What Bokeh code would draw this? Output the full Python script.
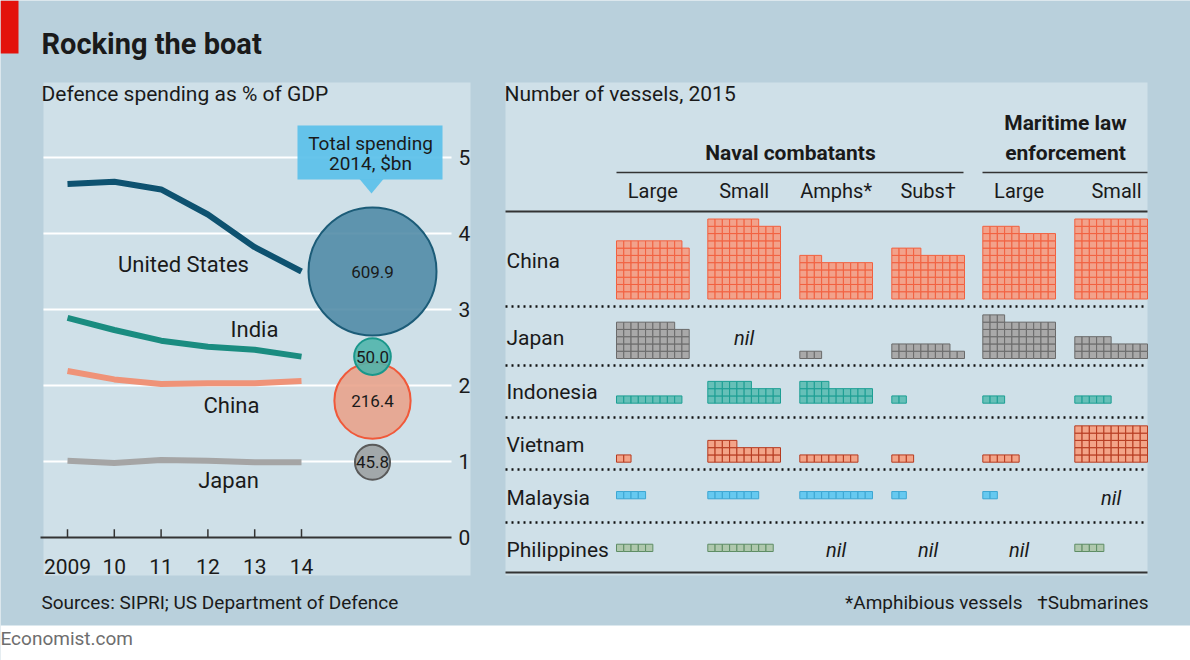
import math
from bokeh.plotting import figure
from bokeh.models import Range1d
from bokeh.core.properties import value
from bokeh.embed import file_html
from bokeh.resources import INLINE

# ---------------- data ----------------
years = [2009, 2010, 2011, 2012, 2013, 2014]
year_labels = ["2009", "10", "11", "12", "13", "14"]
us_gdp = [4.65, 4.68, 4.58, 4.25, 3.82, 3.50]
india_gdp = [2.89, 2.73, 2.59, 2.51, 2.47, 2.38]
china_gdp = [2.19, 2.08, 2.02, 2.03, 2.03, 2.06]
japan_gdp = [1.01, 0.98, 1.02, 1.01, 0.99, 0.99]
pct_ticks = [0, 1, 2, 3, 4, 5]

spend_countries = ["United States", "China", "India", "Japan"]
spend_2014 = [609.9, 216.4, 50.0, 45.8]

countries = ["China", "Japan", "Indonesia", "Vietnam", "Malaysia", "Philippines"]
vessel_cols = ["Large", "Small", "Amphs*", "Subs†", "Large", "Small"]
naval_large = [79, 48, 9, 2, 4, 5]
naval_small = [107, 0, 26, 24, 7, 9]
amphs = [53, 3, 24, 8, 10, 0]
subs = [64, 18, 2, 3, 2, 0]
mle_large = [95, 53, 3, 5, 2, 0]
mle_small = [110, 25, 5, 50, 0, 4]

# ---------------- styles / layout ----------------
FONT = value("Roboto")
INK = "#1a1a1a"
PAGE_BG = "#b9d0dc"
PANEL_BG = "#cfe0e8"

line_colors = {"United States": "#0e5270", "India": "#1a8c80", "China": "#ef9378", "Japan": "#a5a5a5"}
bubble_fill = {"United States": "#4f89a5", "India": "#4db3aa", "China": "#e9a089", "Japan": "#9c9fa1"}
bubble_line = {"United States": "#1c5c78", "India": "#1a978b", "China": "#f0593a", "Japan": "#5a5a5a"}
waffle_fill = ["#f2a28b", "#a9a9a9", "#66c0b8", "#f3a488", "#66c9f0", "#afc8ad"]
waffle_line = ["#f2603f", "#6a6a6a", "#1c9e93", "#b63a1f", "#3da6d2", "#5e8d64"]

W, H = 1190, 660
X0, Y0 = 0, 0  # figure pixel coords == reference pixel coords

p = figure(width=W, height=H, x_range=Range1d(X0, X0 + W), y_range=Range1d(Y0 + H, Y0),
           output_backend="svg", toolbar_location=None, min_border=0,
           x_axis_type=None, y_axis_type=None)
p.background_fill_color = PAGE_BG
p.border_fill_color = PAGE_BG
p.outline_line_color = None
p.grid.visible = False

# line-chart scales mapped onto the page frame
yr_px0, yr_step = 67.0, 46.8      # x px of 2009, px per year
pct_px0, pct_step = 537.0, 76.0   # y px of 0%, px per point
p.extra_x_ranges = {"year": Range1d(2009 + (X0 - yr_px0) / yr_step, 2009 + (X0 + W - yr_px0) / yr_step)}
p.extra_y_ranges = {"pct": Range1d((pct_px0 - (Y0 + H)) / pct_step, (pct_px0 - Y0) / pct_step)}

# ---------------- page furniture ----------------
p.quad(left=[0], right=[18], top=[0], bottom=[53], fill_color="#e3120b", line_color=None)
p.quad(left=[0], right=[1190], top=[625], bottom=[660], fill_color="white", line_color=None)
p.quad(left=[43, 505], right=[470, 1147], top=[82, 82], bottom=[575, 575],
       fill_color=PANEL_BG, line_color=None)

p.text(x=[41], y=[43], text=["Rocking the boat"], text_font=FONT, text_font_size="29px",
       text_font_style="bold", text_color=INK, text_baseline="middle")
p.text(x=[41], y=[93], text=["Defence spending as % of GDP"], text_font=FONT, text_font_size="21px",
       text_color=INK, text_baseline="middle")
p.text(x=[504], y=[93], text=["Number of vessels, 2015"], text_font=FONT, text_font_size="21px",
       text_color=INK, text_baseline="middle")
p.text(x=[41], y=[602], text=["Sources: SIPRI; US Department of Defence"], text_font=FONT,
       text_font_size="19px", text_color=INK, text_baseline="middle")
p.text(x=[1022], y=[602], text=["*Amphibious vessels"], text_font=FONT,
       text_font_size="19px", text_color=INK, text_baseline="middle", text_align="right")
p.text(x=[1148], y=[602], text=["†Submarines"], text_font=FONT,
       text_font_size="19px", text_color=INK, text_baseline="middle", text_align="right")
p.text(x=[0], y=[638], text=["Economist.com"], text_font=FONT, text_font_size="19px",
       text_color="#6e6e6e", text_baseline="middle")

# ---------------- left chart ----------------
p.segment(x0=[43] * 5, x1=[451] * 5, y0=pct_ticks[1:], y1=pct_ticks[1:], y_range_name="pct",
          line_color="white", line_width=2)
p.segment(x0=[40], x1=[451], y0=[0], y1=[0], y_range_name="pct", line_color="#333333", line_width=2)
p.segment(x0=years, x1=years, y0=[0] * 6, y1=[0.11] * 6, x_range_name="year", y_range_name="pct",
          line_color="#333333", line_width=1.5)
p.text(x=years, y=[566] * 6, text=year_labels, x_range_name="year", text_font=FONT,
       text_font_size="21px", text_color=INK, text_align="center", text_baseline="middle")
p.text(x=[458] * 6, y=pct_ticks, text=[str(t) for t in pct_ticks], y_range_name="pct", text_font=FONT,
       text_font_size="21px", text_color=INK, text_baseline="middle")

series = {"United States": us_gdp, "India": india_gdp, "China": china_gdp, "Japan": japan_gdp}
for name, vals in series.items():
    p.line(years, vals, x_range_name="year", y_range_name="pct", line_color=line_colors[name],
           line_width=6, line_cap="butt", line_join="round")

label_pos = {"United States": (183, 264), "India": (254, 329), "China": (231, 405), "Japan": (228, 480)}
for name, (lx, ly) in label_pos.items():
    p.text(x=[lx], y=[ly], text=[name], text_font=FONT, text_font_size="22px", text_color=INK,
           text_align="center", text_baseline="middle")

# callout
p.quad(left=[297], right=[442], top=[125], bottom=[179], fill_color="#5bc1ea", fill_alpha=0.93,
       line_color=None)
p.patch(x=[359, 383, 371], y=[178.5, 178.5, 193], fill_color="#5bc1ea", fill_alpha=0.93, line_color=None)
p.text(x=[370, 370], y=[143, 163], text=["Total spending", "2014, $bn"], text_font=FONT,
       text_font_size="19px", text_color=INK, text_align="center", text_baseline="middle")

# bubbles (area ~ spending), centred near each line's 2014 value
bubble_y = {"United States": us_gdp[-1], "China": 1.80, "India": india_gdp[-1], "Japan": japan_gdp[-1]}
max_d = 128.0
bx = 372
for name, v in zip(spend_countries, spend_2014):
    d = max_d * math.sqrt(v / max(spend_2014))
    p.scatter(x=[bx], y=[bubble_y[name]], size=d, y_range_name="pct", marker="circle",
              fill_color=bubble_fill[name], fill_alpha=0.88, line_color=bubble_line[name], line_width=2)
for name, v in zip(spend_countries, spend_2014):
    p.text(x=[bx], y=[bubble_y[name]], text=[f"{v:.1f}"], y_range_name="pct", text_font=FONT,
           text_font_size="17px", text_color=INK, text_align="center", text_baseline="middle")

# ---------------- right chart: waffles ----------------
col_left = [616, 707.3, 799.3, 891.3, 982.3, 1074.3]
row_bottom = [298.5, 358, 402.7, 461.7, 498.3, 551]
row_label_y = [260, 337, 391, 444, 497, 549]
cs = 7.27
per_row = 10

p.text(x=[790], y=[152], text=["Naval combatants"], text_font=FONT, text_font_size="21px",
       text_font_style="bold", text_color=INK, text_align="center", text_baseline="middle")
p.text(x=[1065, 1065], y=[122, 152], text=["Maritime law", "enforcement"], text_font=FONT,
       text_font_size="21px", text_font_style="bold", text_color=INK, text_align="center",
       text_baseline="middle")
p.segment(x0=[616, 982], x1=[963, 1147], y0=[172, 172], y1=[172, 172], line_color="#333333", line_width=1.5)
col_centers = [c + cs * per_row / 2 for c in col_left]
hdr_x = col_centers[:5] + [1116]
p.text(x=hdr_x, y=[190] * 6, text=vessel_cols, text_font=FONT, text_font_size="20px",
       text_color=INK, text_align="center", text_baseline="middle")
p.segment(x0=[505], x1=[1147], y0=[211], y1=[211], line_color="#333333", line_width=2)
p.segment(x0=[505], x1=[1147], y0=[572], y1=[572], line_color="#333333", line_width=2)
sep_y = [306, 365, 417, 469, 522]
p.segment(x0=[505] * 5, x1=[1147] * 5, y0=sep_y, y1=sep_y, line_color="#111111", line_width=2.4,
          line_dash="2 4.5".replace(".5", ""))

p.text(x=[506] * 6, y=row_label_y, text=countries, text_font=FONT, text_font_size="21px",
       text_color=INK, text_baseline="middle")

groups = [naval_large, naval_small, amphs, subs, mle_large, mle_small]
nil_x, nil_y = [], []
for ci, grp in enumerate(groups):
    for ri, n in enumerate(grp):
        if n == 0:
            nil_x.append(col_centers[ci])
            nil_y.append(row_label_y[ri])
            continue
        xs = [col_left[ci] + (i % per_row + 0.5) * cs for i in range(n)]
        ys = [row_bottom[ri] - (i // per_row + 0.5) * cs for i in range(n)]
        p.rect(x=xs, y=ys, width=cs, height=cs, fill_color=waffle_fill[ri],
               line_color=waffle_line[ri], line_width=1.0)
p.text(x=nil_x, y=nil_y, text=["nil"] * len(nil_x), text_font=FONT, text_font_size="20px",
       text_font_style="italic", text_color=INK, text_align="center", text_baseline="middle")

open("out.html", "w").write(file_html(p, INLINE))
